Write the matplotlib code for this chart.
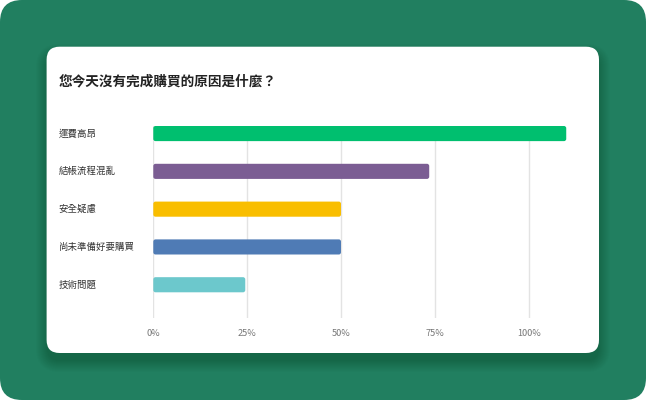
import matplotlib
matplotlib.use("Agg")
import matplotlib.pyplot as plt
from matplotlib.patches import FancyBboxPatch
from matplotlib.transforms import blended_transform_factory

plt.rcParams['font.family'] = ['Noto Sans CJK TC', 'DejaVu Sans']

# chart data
title = "您今天沒有完成購買的原因是什麼？"
reasons = ["運費高昂", "結帳流程混亂", "安全疑慮", "尚未準備好要購買", "技術問題"]
percents = [110, 73.5, 50, 50, 24.5]
bar_colors = ["#00bf6f", "#7b5d93", "#f9be00", "#4f7bb5", "#6cc8cc"]
x_ticks = [0, 25, 50, 75, 100]
x_tick_labels = ["0%", "25%", "50%", "75%", "100%"]

W, H = 646, 400
fig = plt.figure(figsize=(W / 100, H / 100), dpi=100)
fig.patch.set_facecolor("white")

# background layer, drawn in pixel units
bg = fig.add_axes([0, 0, 1, 1])
bg.set_xlim(0, W)
bg.set_ylim(H, 0)
bg.axis("off")
bg.add_patch(FancyBboxPatch((0, 0), W, H, boxstyle="round,pad=0,rounding_size=22",
                            fc="#217f60", ec="none"))
# soft shadow under the card
for k in range(12):
    bg.add_patch(FancyBboxPatch((47 - k, 55 - k), 552 + 2 * k, 306 + 2 * k,
                                boxstyle="round,pad=0,rounding_size=%d" % (13 + k),
                                fc="black", ec="none", alpha=0.014))
bg.add_patch(FancyBboxPatch((46.6, 46.7), 552.4, 306.3, boxstyle="round,pad=0,rounding_size=13",
                            fc="white", ec="none"))

fig.text(59 / W, 1 - 81 / H, title, fontsize=9.8, fontweight="bold",
         color="#222222", va="center", ha="left")

# bar chart
left_px, right_px = 153.3, 153.3 + 375.4 * 1.15
top_px, bottom_px = 126, 318
ax = fig.add_axes([left_px / W, 1 - bottom_px / H, (right_px - left_px) / W, (bottom_px - top_px) / H])
ax.set_facecolor("none")

ypos = list(range(len(reasons)))
bars = ax.barh(ypos, percents, height=0.4, color=bar_colors, zorder=3)
for bar in bars:
    bar.set_visible(False)
    ax.add_patch(FancyBboxPatch((bar.get_x(), bar.get_y()), bar.get_width(), bar.get_height(),
                                boxstyle="round,pad=0,rounding_size=0.6", mutation_aspect=0.1,
                                fc=bar.get_facecolor(), ec="none", zorder=3))

ax.set_xlim(0, 115)
ax.set_ylim(4.88, -0.2)
ax.set_xticks(x_ticks)
ax.set_xticklabels(x_tick_labels)
ax.set_yticks([])
ax.grid(axis="x", color="#e3e3e3", lw=1)
ax.set_axisbelow(True)
for s in ax.spines.values():
    s.set_visible(False)
ax.tick_params(axis="x", length=0, pad=8, labelsize=6.6, labelcolor="#777777")

trans = blended_transform_factory(fig.transFigure, ax.transData)
for i, r in enumerate(reasons):
    ax.text(58.5 / W, i, r, transform=trans, ha="left", va="center", fontsize=6.8, color="#333333")

fig.savefig("out.png", dpi=100)
